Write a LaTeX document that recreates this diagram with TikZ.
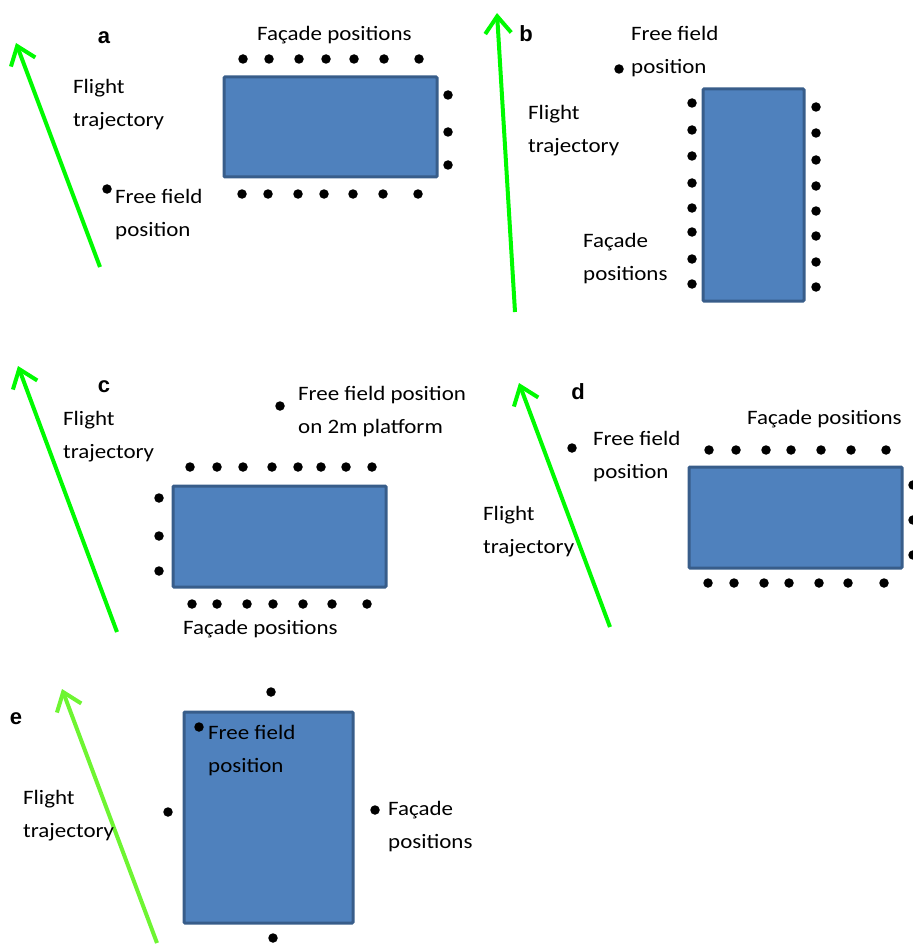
\documentclass[tikz,border=0pt]{standalone}
\usepackage{fontspec}
\setmainfont{Carlito}[FakeStretch=1.12]
\newfontfamily\panelfont{Liberation Sans}
\usetikzlibrary{arrows.meta}

\definecolor{flightgreen}{RGB}{0,250,0}
\definecolor{flightlime}{RGB}{110,245,50}
\definecolor{housefill}{RGB}{79,129,189}
\definecolor{houseline}{RGB}{56,93,138}

\begin{document}
\begin{tikzpicture}[
	x=1pt, y=-1pt,
	house/.style={draw=houseline, fill=housefill, line width=3pt, rounded corners=1pt},
	mic/.style={circle, fill=black, inner sep=0pt, minimum size=9.5pt},
	lbl/.style={inner sep=0pt, anchor=north west, align=left, font=\fontsize{20.5}{33}\selectfont},
	panel/.style={inner sep=0pt, font=\panelfont\bfseries\fontsize{22}{24}\selectfont},
	flight/.style={line width=4pt, -{Straight Barb[length=17pt, width=26pt, line width=4pt]}, flightgreen}]

	\useasboundingbox (0,0) rectangle (912,944);

	% Panel a
	\node (a) [panel] at (104,38) {a};
	\coordinate (a-tail) at (100,267);
	\coordinate (a-tip) at (16,43);
	\draw[flight] (a-tail) -- (a-tip);
	\draw[house] (224,77) rectangle (437,177);
	\foreach \x [count=\i] in {243,269,299,326,354,384,419}
		\node (a-t\i) [mic] at (\x,59) {};
	\foreach \x [count=\i] in {242,268,298,324,353,383,418}
		\node (a-b\i) [mic] at (\x,194) {};
	\foreach \y [count=\i] in {95,132,165}
		\node (a-r\i) [mic] at (448,\y) {};
	\node (a-ff) [mic] at (107,189) {};
	\node (a-fl) [lbl] at (73,79) {Flight\\trajectory};
	\node (a-fft) [lbl] at (115,189) {Free field\\position};
	\node (a-fac) [lbl] at (257,26) {Façade positions};

	% Panel b
	\node (b) [panel] at (526,34) {b};
	\coordinate (b-tail) at (515,312);
	\coordinate (b-tip) at (497,13);
	\draw[flight] (b-tail) -- (b-tip);
	\draw[house] (703,89) rectangle (804,301);
	\foreach \y [count=\i] in {103,130,156,183,208,232,259,284}
		\node (b-l\i) [mic] at (692,\y) {};
	\foreach \y [count=\i] in {107,133,160,186,211,236,262,287}
		\node (b-r\i) [mic] at (816,\y) {};
	\node (b-ff) [mic] at (619,69) {};
	\node (b-fft) [lbl] at (631,26) {Free field\\position};
	\node (b-fl) [lbl] at (528,105) {Flight\\trajectory};
	\node (b-fac) [lbl] at (583,233) {Façade\\positions};

	% Panel c
	\node (c) [panel] at (104,387) {c};
	\coordinate (c-tail) at (117,632);
	\coordinate (c-tip) at (18,366);
	\draw[flight] (c-tail) -- (c-tip);
	\draw[house] (173,486) rectangle (386,587);
	\foreach \x [count=\i] in {190,217,243,272,298,321,346,372}
		\node (c-t\i) [mic] at (\x,467) {};
	\foreach \x [count=\i] in {192,217,247,273,303,332,367}
		\node (c-b\i) [mic] at (\x,604) {};
	\foreach \y [count=\i] in {498,536,571}
		\node (c-l\i) [mic] at (159,\y) {};
	\node (c-ff) [mic] at (280,406) {};
	\node (c-fl) [lbl] at (63,411) {Flight\\trajectory};
	\node (c-fft) [lbl] at (298,386) {Free field position\\on 2m platform};
	\node (c-fac) [lbl] at (183,620) {Façade positions};

	% Panel d
	\node (d) [panel] at (578,392) {d};
	\coordinate (d-tail) at (610,627);
	\coordinate (d-tip) at (519,383);
	\draw[flight] (d-tail) -- (d-tip);
	\draw[house] (689,467) rectangle (902,568);
	\foreach \x [count=\i] in {709,736,766,791,821,851,886}
		\node (d-t\i) [mic] at (\x,450) {};
	\foreach \x [count=\i] in {708,734,764,789,819,848,884}
		\node (d-b\i) [mic] at (\x,583) {};
	\foreach \y [count=\i] in {485,520,555}
		\node (d-r\i) [mic] at (913,\y) {};
	\node (d-ff) [mic] at (572,448) {};
	\node (d-fft) [lbl] at (593,431) {Free field\\position};
	\node (d-fl) [lbl] at (483,506) {Flight\\trajectory};
	\node (d-fac) [lbl] at (747,410) {Façade positions};

	% Panel e
	\node (e) [panel] at (16,719) {e};
	\draw[house] (184,712) rectangle (353,923);
	\coordinate (e-tail) at (157,943);
	\coordinate (e-tip) at (62,689);
	\draw[flight, flightlime] (e-tail) -- (e-tip);
	\node (e-t) [mic] at (271,692) {};
	\node (e-l) [mic] at (168,812) {};
	\node (e-r) [mic] at (375,810) {};
	\node (e-b) [mic] at (273,938) {};
	\node (e-ff) [mic] at (199,727) {};
	\node (e-fft) [lbl] at (208,725) {Free field\\position};
	\node (e-fl) [lbl] at (23,790) {Flight\\trajectory};
	\node (e-fac) [lbl] at (388,801) {Façade\\positions};
\end{tikzpicture}
\end{document}
